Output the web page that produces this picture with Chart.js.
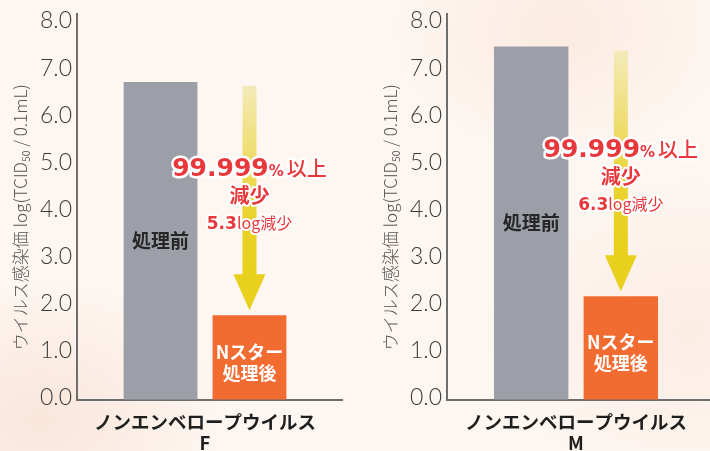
<!DOCTYPE html>
<html lang="ja">
<head>
<meta charset="UTF-8">
<title>ウイルス感染価</title>
<script src="https://cdn.jsdelivr.net/npm/chart.js@4.4.1/dist/chart.umd.min.js"></script>
<style>
  html, body { margin: 0; padding: 0; }
  body {
    width: 710px; height: 451px; overflow: hidden; position: relative;
    background:
      radial-gradient(ellipse 260px 200px at 40px 420px, rgba(246, 210, 192, 0.45), rgba(246, 210, 192, 0) 70%),
      radial-gradient(ellipse 240px 180px at 560px 30px, rgba(249, 218, 200, 0.4), rgba(249, 218, 200, 0) 70%),
      radial-gradient(ellipse 300px 220px at 690px 330px, rgba(249, 220, 204, 0.35), rgba(249, 220, 204, 0) 70%),
      #fdf6f1;
  }
  .panel { position: absolute; top: 0; height: 451px; }
</style>
</head>
<body>
<div class="panel" style="left:0;width:355px"><canvas id="chartF"></canvas></div>
<div class="panel" style="left:370px;width:340px"><canvas id="chartM"></canvas></div>

<script>
// データ
const virusNames = ['F', 'M'];
const categoryLabel = 'ノンエンベロープウイルス';
const seriesLabels = ['処理前', 'Nスター処理後'];
const beforeValues = [6.75, 7.5];
const afterValues = [1.8, 2.2];
const logReduction = ['5.3', '6.3'];
const yTickValues = [0, 1, 2, 3, 4, 5, 6, 7, 8];
const yTitle = 'ウイルス感染価 log(TCID₅₀ / 0.1mL)\u2003 ';

const JP = '"Noto Sans CJK JP", "Noto Sans", sans-serif';
const RED = '#e8383c';
const AXIS = '#6e6e6e';

// 複数フォントの文字列を中央揃えで描く
function drawRuns(ctx, runs, cx, baseY, fill, outline) {
    let total = 0;
    runs.forEach(function (r) {
        ctx.font = r.font;
        r.w = ctx.measureText(r.text).width;
        total += r.w + (r.gap || 0);
    });
    ctx.textAlign = 'left';
    ctx.textBaseline = 'alphabetic';
    ctx.lineJoin = 'round';
    let x = cx - total / 2;
    if (outline) {
        ctx.strokeStyle = '#ffffff';
        ctx.lineWidth = outline;
        let xx = x;
        runs.forEach(function (r) {
            ctx.font = r.font;
            ctx.strokeText(r.text, xx, baseY);
            xx += r.w + (r.gap || 0);
        });
    }
    ctx.fillStyle = fill;
    runs.forEach(function (r) {
        ctx.font = r.font;
        ctx.fillText(r.text, x, baseY);
        x += r.w + (r.gap || 0);
    });
}

const annotate = {
    id: 'annotate',
    afterDatasetsDraw(chart, args, opts) {
        const ctx = chart.ctx;
        const i = opts.index;
        const area = chart.chartArea;
        const before = chart.getDatasetMeta(0).data[0];
        const after = chart.getDatasetMeta(1).data[0];
        ctx.save();

        // x軸の線を少し右へ延ばす
        ctx.strokeStyle = AXIS;
        ctx.lineWidth = 2;
        ctx.beginPath();
        ctx.moveTo(area.right - 1, area.bottom);
        ctx.lineTo(area.right + opts.extend, area.bottom);
        ctx.stroke();

        // 棒の中のラベル
        ctx.textAlign = 'center';
        ctx.textBaseline = 'middle';
        ctx.fillStyle = '#262626';
        ctx.font = 'bold 19px ' + JP;
        ctx.fillText(seriesLabels[0], before.x, (before.y + before.base) / 2);
        ctx.fillStyle = '#ffffff';
        ctx.font = 'bold 18px ' + JP;
        const mid = (after.y + after.base) / 2 + 5;
        ctx.fillText('Nスター', after.x, mid - 10.5);
        ctx.fillText('処理後', after.x, mid + 10.5);

        // 矢印
        const cx = after.x;
        const top = before.y + 4;
        const headTop = after.y - 41;
        const tip = after.y - 5;
        const g = ctx.createLinearGradient(0, top, 0, headTop);
        g.addColorStop(0, '#f4eab9');
        g.addColorStop(0.7, '#e9d22a');
        g.addColorStop(1, '#e8d01c');
        ctx.fillStyle = g;
        ctx.fillRect(cx - 7, top, 14, headTop - top + 1);
        ctx.fillStyle = '#e8d01c';
        ctx.beginPath();
        ctx.moveTo(cx - 16, headTop);
        ctx.lineTo(cx + 16, headTop);
        ctx.lineTo(cx, tip);
        ctx.closePath();
        ctx.fill();

        // 減少の注記
        drawRuns(ctx, [
            { text: '99.999', font: 'bold 25px "DejaVu Sans", sans-serif' },
            { text: '%', font: 'bold 15px "DejaVu Sans", sans-serif', gap: 3 },
            { text: '以上', font: '500 20px ' + JP }
        ], cx, after.y - 139, RED, 5);
        drawRuns(ctx, [
            { text: '減少', font: 'bold 20px ' + JP }
        ], cx, after.y - 112, RED, 4);
        drawRuns(ctx, [
            { text: logReduction[i], font: 'bold 17px "DejaVu Sans", sans-serif' },
            { text: 'log減少', font: '16px ' + JP }
        ], cx, after.y - 86, RED, 4);

        ctx.restore();
    }
};

function makeChart(id, i, padRight, extend) {
    return new Chart(document.getElementById(id), {
        type: 'bar',
        data: {
            labels: [[categoryLabel, virusNames[i]]],
            datasets: [{
                label: seriesLabels[0],
                data: [beforeValues[i]],
                backgroundColor: '#9c9fa7',
                categoryPercentage: 0.695,
                barPercentage: 0.83
            }, {
                label: seriesLabels[1],
                data: [afterValues[i]],
                backgroundColor: '#f26b31',
                categoryPercentage: 0.695,
                barPercentage: 0.83
            }]
        },
        options: {
            responsive: true,
            maintainAspectRatio: false,
            animation: false,
            layout: { padding: { top: 13.6, right: padRight, left: 0, bottom: 0 } },
            plugins: {
                legend: { display: false },
                tooltip: { enabled: false },
                annotate: { index: i, extend: extend }
            },
            scales: {
                x: {
                    grid: { drawOnChartArea: false, drawTicks: false },
                    border: { color: AXIS, width: 2 },
                    ticks: {
                        color: '#1e1e1e',
                        padding: 11,
                        font: { family: JP, size: 18.5, weight: 'bold', lineHeight: 1.15 }
                    },
                    afterFit(s) { s.height = 51; }
                },
                y: {
                    min: 0,
                    max: 8.2,
                    grid: { drawOnChartArea: false, drawTicks: false },
                    border: { color: AXIS, width: 2 },
                    afterBuildTicks(s) { s.ticks = yTickValues.map(function (v) { return { value: v }; }); },
                    afterFit(s) { s.width = 77; s.paddingTop = 0; s.paddingBottom = 0; },
                    ticks: {
                        color: '#3b3b3b',
                        padding: 5,
                        labelOffset: -2,
                        font: { family: '"Lato Light", Lato, "DejaVu Sans", sans-serif', size: 23, weight: '300' },
                        callback: function (v) { return Number(v).toFixed(1); }
                    },
                    title: {
                        display: true,
                        text: yTitle,
                        color: '#555555',
                        padding: { top: 10, bottom: 0 },
                        font: { family: JP, size: 17, weight: '300' }
                    }
                }
            }
        },
        plugins: [annotate]
    });
}

makeChart('chartF', 0, 22, 10);
makeChart('chartM', 1, 5, 5);
</script>
</body>
</html>
